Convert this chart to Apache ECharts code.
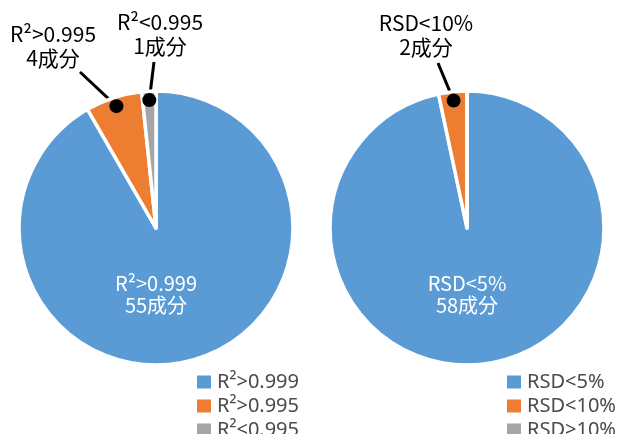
<!DOCTYPE html>
<html>
<head>
<meta charset="utf-8">
<script src="https://cdn.jsdelivr.net/npm/echarts@6/dist/echarts.min.js"></script>
<style>
html,body{margin:0;padding:0;background:#fff;}
#chart{width:623px;height:434px;}
</style>
</head>
<body>
<div id="chart"></div>
<script>
// ---- data ----
const leftNames = ['R²>0.999', 'R²>0.995', 'R²<0.995'];
const leftValues = [55, 4, 1];
const rightNames = ['RSD<5%', 'RSD<10%', 'RSD>10%'];
const rightValues = [58, 2, 0];
const unitSuffix = '成分';
const colors = ['#5B9BD5', '#ED7D31', '#A5A5A5'];

// ---- layout ----
const FONT = '"Noto Sans CJK JP", "Noto Sans", sans-serif';
const R = 137;
const leftCenter = [156, 228];
const rightCenter = [467, 228];
const dotRadiusFrac = 0.935;
// label anchor positions (text center) and leader line end points
const leftLabelPos = [[156, 294], [53, 46], [160, 34]];
const leftLineEnd = [null, [80, 72], [154, 62]];
const rightLabelPos = [[467, 294], [426, 35], null];
const rightLineEnd = [null, [438, 63], null];

function sum(a){ return a.reduce((s, v) => s + v, 0); }
function midFrac(values, i){
  let c = 0; for (let k = 0; k < i; k++) c += values[k];
  return (c + values[i] / 2) / sum(values);
}
function dotPoint(center, values, i){
  const th = midFrac(values, i) * Math.PI * 2;
  const r = R * dotRadiusFrac;
  return [center[0] + r * Math.sin(th), center[1] - r * Math.cos(th)];
}

function makePie(names, values, center, labelPos, lineEnd){
  const data = names.map((n, i) => {
    const item = { name: n, value: values[i], itemStyle: { color: colors[i] } };
    if (i === 0) {
      item.label = { position: 'inside', color: '#fff', fontSize: 20, lineHeight: 22 };
      item.labelLine = { show: false };
    }
    if (values[i] === 0 || !labelPos[i]) {
      item.label = { show: false };
      item.labelLine = { show: false };
    }
    return item;
  });
  return {
    type: 'pie',
    center: center,
    radius: R,
    startAngle: 90,
    clockwise: true,
    avoidLabelOverlap: false,
    animation: false,
    silent: true,
    z: 2,
    data: data,
    itemStyle: { borderColor: '#fff', borderWidth: 3.5 },
    label: {
      show: true,
      position: 'outside',
      formatter: p => p.name + '\n' + p.value + unitSuffix,
      fontSize: 21,
      lineHeight: 24,
      color: '#000',
      fontFamily: FONT
    },
    labelLine: { show: true, length: 10, length2: 10, smooth: false, lineStyle: { color: '#000', width: 3 } },
    labelLayout: function (p) {
      const i = p.dataIndex;
      const pos = labelPos[i];
      if (!pos) return {};
      const res = { x: pos[0], y: pos[1], align: 'center', verticalAlign: 'middle' };
      if (lineEnd[i]) {
        const d = dotPoint(center, values, i);
        res.labelLinePoints = [d, lineEnd[i], lineEnd[i]];
      }
      return res;
    }
  };
}

function dotData(values){
  const out = [];
  let c = 0;
  values.forEach((v, i) => {
    if (i > 0 && v > 0) out.push([dotRadiusFrac, c + v / 2]);
    c += v;
  });
  return out;
}

const chart = echarts.init(document.getElementById('chart'), null, { renderer: 'canvas' });
const legendCommon = {
  orient: 'vertical',
  top: 372,
  height: 90,
  padding: 0,
  itemWidth: 16,
  itemHeight: 15,
  itemGap: 4,
  icon: 'rect',
  selectedMode: false,
  textStyle: { fontSize: 20, lineHeight: 19, color: '#4a4a4a', fontFamily: '"Noto Sans", sans-serif' }
};
chart.setOption({
  backgroundColor: '#fff',
  animation: false,
  legend: [
    Object.assign({}, legendCommon, { data: leftNames, left: 195 }),
    Object.assign({}, legendCommon, { data: rightNames, left: 505 })
  ],
  polar: [
    { center: leftCenter, radius: R },
    { center: rightCenter, radius: R }
  ],
  angleAxis: [
    { polarIndex: 0, type: 'value', min: 0, max: sum(leftValues), startAngle: 90, clockwise: true, show: false },
    { polarIndex: 1, type: 'value', min: 0, max: sum(rightValues), startAngle: 90, clockwise: true, show: false }
  ],
  radiusAxis: [
    { polarIndex: 0, type: 'value', min: 0, max: 1, show: false },
    { polarIndex: 1, type: 'value', min: 0, max: 1, show: false }
  ],
  series: [
    makePie(leftNames, leftValues, leftCenter, leftLabelPos, leftLineEnd),
    makePie(rightNames, rightValues, rightCenter, rightLabelPos, rightLineEnd),
    { type: 'scatter', coordinateSystem: 'polar', polarIndex: 0, data: dotData(leftValues), symbolSize: 14, itemStyle: { color: '#000', opacity: 1 }, z: 5, silent: true },
    { type: 'scatter', coordinateSystem: 'polar', polarIndex: 1, data: dotData(rightValues), symbolSize: 14, itemStyle: { color: '#000', opacity: 1 }, z: 5, silent: true }
  ]
});
</script>
</body>
</html>
